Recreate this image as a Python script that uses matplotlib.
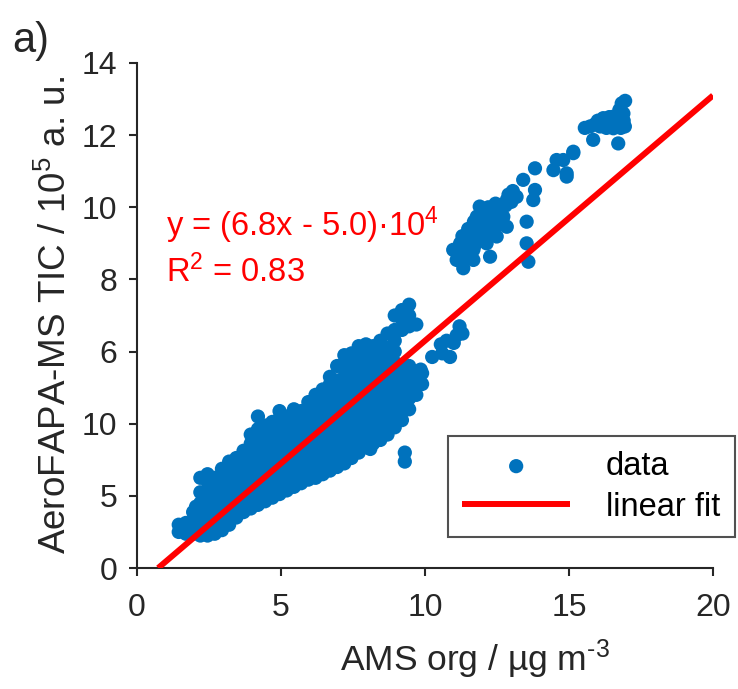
import numpy as np
import matplotlib
matplotlib.use("Agg")
import matplotlib.pyplot as plt

# ===== フォント設定 =====
plt.rcParams["font.family"] = ["Liberation Sans", "DejaVu Sans"]
plt.rcParams["mathtext.fontset"] = "custom"
plt.rcParams["mathtext.rm"] = "Liberation Sans"
plt.rcParams["mathtext.default"] = "regular"

# ===== データ (AMS org [ug m-3] vs TIC [1e5 a.u.]) =====
# main cloud
main_cols_x = [1.45, 1.7, 1.95, 2.2, 2.45, 2.7, 2.95, 3.2, 3.45, 3.7, 3.95,
               4.2, 4.45, 4.7, 4.95, 5.2, 5.45, 5.7, 5.95, 6.2, 6.45, 6.7,
               6.95, 7.2, 7.45, 7.7, 7.95, 8.2, 8.45, 8.7, 8.95, 9.2, 9.45,
               9.7, 9.9]
main_cols_y = [
    [1.0, 1.2],
    [0.95, 1.25],
    [0.95, 1.25, 1.55],
    [0.9, 1.2, 1.5, 1.8, 2.1, 2.5],
    [0.9, 1.2, 1.5, 1.8, 2.1, 2.4, 2.6],
    [0.95, 1.25, 1.55, 1.85, 2.15, 2.5],
    [1.05, 1.35, 1.65, 1.95, 2.25, 2.55, 2.75],
    [1.2, 1.5, 1.8, 2.1, 2.4, 2.7, 2.95],
    [1.4, 1.7, 2.0, 2.3, 2.6, 2.9, 3.05],
    [1.55, 1.85, 2.15, 2.45, 2.75, 3.05, 3.25],
    [1.65, 1.95, 2.25, 2.55, 2.85, 3.15, 3.45, 3.7],
    [1.75, 2.05, 2.35, 2.65, 2.95, 3.25, 3.55, 3.85, 4.2],
    [1.85, 2.15, 2.45, 2.75, 3.05, 3.35, 3.65, 3.95],
    [1.95, 2.25, 2.55, 2.85, 3.15, 3.45, 3.75, 4.05],
    [2.05, 2.35, 2.65, 2.95, 3.25, 3.55, 3.85, 4.15, 4.35],
    [2.15, 2.45, 2.75, 3.05, 3.35, 3.65, 3.95, 4.2],
    [2.25, 2.55, 2.85, 3.15, 3.45, 3.75, 4.05, 4.4],
    [2.35, 2.65, 2.95, 3.25, 3.55, 3.85, 4.15, 4.35],
    [2.45, 2.75, 3.05, 3.35, 3.65, 3.95, 4.25, 4.6],
    [2.5, 2.8, 3.1, 3.4, 3.7, 4.0, 4.3, 4.6, 4.8],
    [2.6, 2.9, 3.2, 3.5, 3.8, 4.1, 4.4, 4.7, 4.95],
    [2.7, 3.0, 3.3, 3.6, 3.9, 4.2, 4.5, 4.8, 5.1, 5.3],
    [2.8, 3.1, 3.4, 3.7, 4.0, 4.3, 4.6, 4.9, 5.2, 5.6],
    [2.9, 3.2, 3.5, 3.8, 4.1, 4.4, 4.7, 5.0, 5.3, 5.6, 5.9],
    [3.05, 3.35, 3.65, 3.95, 4.25, 4.55, 4.85, 5.15, 5.45, 5.75, 5.95],
    [3.2, 3.5, 3.8, 4.1, 4.4, 4.7, 5.0, 5.3, 5.6, 5.9, 6.15],
    [3.35, 3.65, 3.95, 4.25, 4.55, 4.85, 5.15, 5.45, 5.75, 6.05, 6.2],
    [3.45, 3.75, 4.05, 4.35, 4.65, 4.95, 5.25, 5.55, 5.85, 6.15],
    [3.55, 3.85, 4.15, 4.45, 4.75, 5.05, 5.35, 5.65, 5.95, 6.3],
    [3.7, 4.0, 4.3, 4.6, 4.9, 5.2, 5.5, 5.8, 6.1, 6.5],
    [3.9, 4.2, 4.5, 4.8, 5.1, 5.4, 5.7, 6.0, 6.3, 6.6, 7.0],
    [4.1, 4.4, 4.7, 5.0, 5.3, 5.6, 6.6, 6.9, 7.15],
    [4.4, 4.7, 5.0, 5.3, 5.6, 6.7, 7.0, 7.3],
    [4.8, 5.1, 5.4, 6.75],
    [5.1, 5.4],
]
extra_x = [10.25, 9.85, 9.3, 9.3, 8.1, 7.75, 2.05]
extra_y = [5.85, 5.5, 2.95, 3.2, 3.3, 3.45, 1.7]

# small group right of the fit line
right_x = [10.55, 10.6, 10.75, 10.87, 11.0, 11.2, 11.3, 11.1]
right_y = [6.2, 5.95, 6.3, 5.85, 6.24, 6.7, 6.5, 6.45]

# middle group around 8-11
mid_x = [11.1, 11.33, 11.22, 11.56, 11.68, 11.9, 11.9, 11.8, 12.14, 12.26,
         12.37, 12.6, 12.84, 13.18, 12.84, 12.49, 13.41, 13.82, 13.82, 13.76,
         13.53, 13.53, 13.59, 14.57, 14.46, 14.92, 15.15, 11.45, 12.03, 12.26,
         12.72, 11.68, 10.98,
         11.2, 11.4, 11.6, 11.8, 12.0, 12.2, 12.4, 12.6, 12.8, 13.0,
         11.3, 11.5, 11.7, 11.9, 12.1, 12.3, 12.5, 12.7,
         11.3, 11.5, 11.7, 12.0, 12.2, 12.45, 12.9, 13.05]
mid_y = [8.54, 8.31, 9.0, 9.19, 8.82, 9.46, 10.02, 9.74, 9.0, 8.63,
         9.56, 9.93, 10.2, 10.29, 9.46, 9.19, 10.76, 11.08, 10.48, 10.2,
         9.6, 9.0, 8.49, 11.31, 11.03, 10.85, 11.5, 8.82, 9.28, 9.74,
         9.74, 8.54, 8.82,
         8.75, 8.95, 9.1, 9.3, 9.5, 9.6, 9.8, 9.95, 10.05, 10.15,
         8.55, 8.7, 8.9, 9.1, 9.25, 9.35, 9.5, 9.7,
         9.2, 9.4, 9.6, 9.8, 10.0, 10.1, 10.35, 10.45]

# top group
top_x = [15.15, 15.84, 16.71, 15.73, 16.19, 16.54, 16.83, 16.89, 16.94,
         16.54, 16.08, 14.8, 14.92,
         15.9, 16.0, 16.3, 16.4, 16.7, 16.75, 16.9, 16.95, 16.8, 16.3, 15.55]
top_y = [11.54, 11.87, 11.77, 12.24, 12.47, 12.51, 12.88, 12.6, 12.24,
         12.19, 12.24, 11.31, 10.94,
         12.3, 12.4, 12.35, 12.5, 12.45, 12.7, 12.4, 12.95, 12.2, 12.2, 12.2]

# linear fit: y = (6.8x - 5.0)*1e4  ->  in 1e5 units
fit_slope = 0.68
fit_intercept = -0.50
fit_x = np.array([-fit_intercept / fit_slope, 20.0])

ytick_pos = [0, 2, 4, 6, 8, 10, 12, 14]
ytick_labels = ["0", "5", "10", "6", "8", "10", "12", "14"]
xtick_pos = [0, 5, 10, 15, 20]

# ===== 可視化 =====
data_x = [x for x, col in zip(main_cols_x, main_cols_y) for _ in col]
data_y = [y for col in main_cols_y for y in col]
data_x = np.array(data_x + extra_x + right_x + mid_x + top_x)
data_y = np.array(data_y + extra_y + right_y + mid_y + top_y)

blue = "#0072BD"
dark = "#262626"

fig = plt.figure(figsize=(7.38, 6.89), dpi=100)
ax = fig.add_axes([0.1856, 0.1756, 0.7805, 0.733])

ax.scatter(data_x, data_y, s=105, color=blue, edgecolors="none", label="data", zorder=2)
ax.plot(fit_x, fit_slope * fit_x + fit_intercept, color="#FF0000", lw=4.3,
        label="linear fit", zorder=3, solid_capstyle="butt")

ax.set_xlim(0, 20)
ax.set_ylim(0, 14)
ax.set_xticks(xtick_pos)
ax.set_yticks(ytick_pos)
ax.set_yticklabels(ytick_labels)

for s in ["top", "right"]:
    ax.spines[s].set_visible(False)
for s in ["left", "bottom"]:
    ax.spines[s].set_linewidth(1.5)
    ax.spines[s].set_color(dark)
ax.tick_params(direction="out", length=6, width=1.5, colors=dark, labelsize=23)
ax.tick_params(axis="x", pad=12)
ax.tick_params(axis="y", pad=8)

ax.set_xlabel("AMS org / µg m$^{\\text{-3}}$", fontsize=25.5, color=dark)
ax.xaxis.set_label_coords(0.587, -0.138)
ax.set_ylabel("AeroFAPA-MS TIC / 10$^5$ a. u.", fontsize=26.5, color=dark, labelpad=6)

ax.text(1.0, 9.5, "y = (6.8x - 5.0)·10$^4$", color="#FF0000", fontsize=23.5, va="center")
ax.text(1.0, 8.2, "R$^2$ = 0.83", color="#FF0000", fontsize=23.5, va="center")

leg = ax.legend(loc="lower right", bbox_to_anchor=(1.038, 0.061), borderaxespad=0,
                fontsize=23.5, handlelength=3.3, frameon=True, fancybox=False,
                borderpad=0.45, labelspacing=0.3, handletextpad=1.1, scatterpoints=1)
leg.get_frame().set_edgecolor(dark)
leg.get_frame().set_linewidth(1.5)
leg.set_zorder(5)

fig.text(0.016, 0.97, "a)", fontsize=30, color=dark, va="top", ha="left")

plt.savefig("out.png", dpi=100)
print("saved out.png")
